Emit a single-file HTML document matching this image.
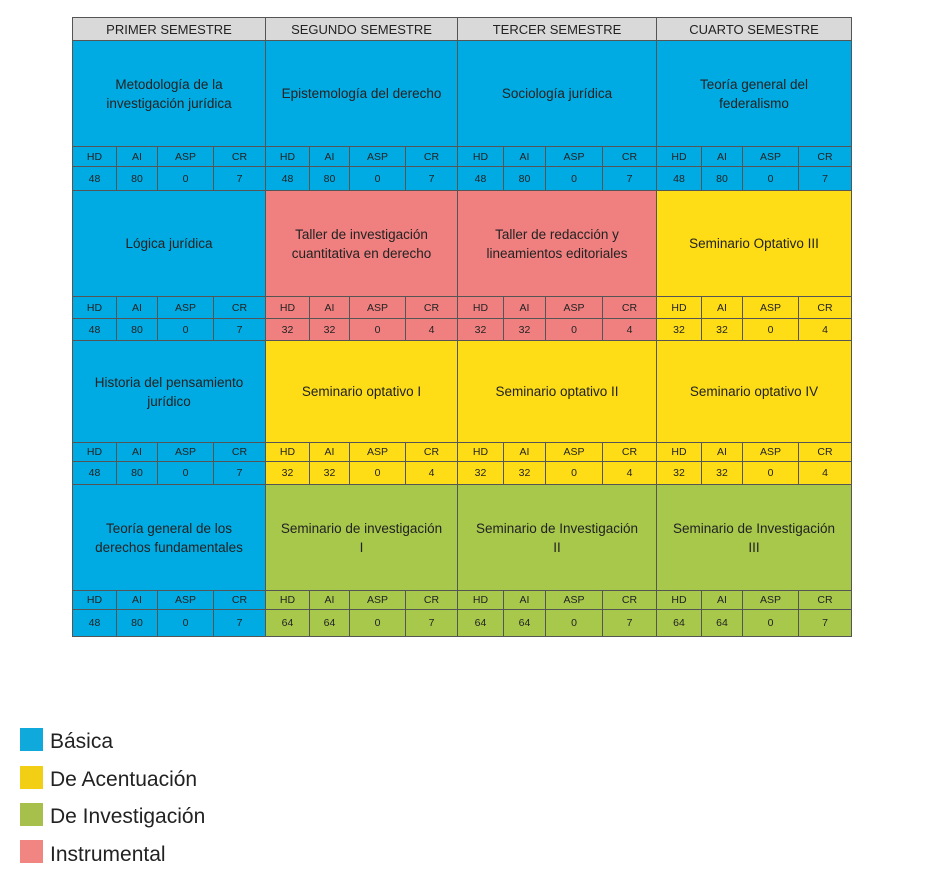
<!DOCTYPE html>
<html><head><meta charset="utf-8">
<style>
body{margin:0;width:928px;height:888px;background:#fff;position:relative;font-family:"Liberation Sans","DejaVu Sans",sans-serif;overflow:hidden}
.c{position:absolute;box-sizing:border-box;display:flex;align-items:center;justify-content:center;text-align:center;color:#222;border:1px solid #555;}
.h{background:#d9d9d9;font-size:13px;color:#222}
.t{font-size:13.5px;line-height:19px;padding:0 8px}
.s{font-size:10.5px}
.leg{position:absolute;left:20px;width:23px;height:23px}
.lt{position:absolute;left:50px;font-size:21px;color:#222;line-height:24px}
</style></head><body>
<div id="tbl"></div>
<div class="leg" style="top:728px;background:#0fa9dc"></div>
<div class="lt" style="top:730px">Básica</div>
<div class="leg" style="top:766px;background:#f2cf15"></div>
<div class="lt" style="top:768px">De Acentuación</div>
<div class="leg" style="top:803px;background:#a6c04b"></div>
<div class="lt" style="top:805px">De Investigación</div>
<div class="leg" style="top:840px;background:#f08582"></div>
<div class="lt" style="top:843px">Instrumental</div>
<script>
const semesters=["PRIMER SEMESTRE","SEGUNDO SEMESTRE","TERCER SEMESTRE","CUARTO SEMESTRE"];
const subjects=[
["Metodología de la<br>investigación jurídica","Epistemología del derecho","Sociología jurídica","Teoría general del<br>federalismo"],
["Lógica jurídica","Taller de investigación<br>cuantitativa en derecho","Taller de redacción y<br>lineamientos editoriales","Seminario Optativo III"],
["Historia del pensamiento<br>jurídico","Seminario optativo I","Seminario optativo II","Seminario optativo IV"],
["Teoría general de los<br>derechos fundamentales","Seminario de investigación<br>I","Seminario de Investigación<br>II","Seminario de Investigación<br>III"]];
const types=[["b","b","b","b"],["b","i","i","a"],["b","a","a","a"],["b","v","v","v"]];
const values=[
[[48,80,0,7],[48,80,0,7],[48,80,0,7],[48,80,0,7]],
[[48,80,0,7],[32,32,0,4],[32,32,0,4],[32,32,0,4]],
[[48,80,0,7],[32,32,0,4],[32,32,0,4],[32,32,0,4]],
[[48,80,0,7],[64,64,0,7],[64,64,0,7],[64,64,0,7]]];
const labels=["HD","AI","ASP","CR"];
const colors={b:"#00aae2",i:"#f08080",a:"#fedd16",v:"#a8c84c"};
const colX=[72,265,457,656,851];
const subFr=[0,0.23,0.44,0.73,1];
const rowY=[[40,146,166,190],[190,296,318,340],[340,442,461,484],[484,590,609,636]];
const tbl=document.getElementById('tbl');
function mk(cls,x,y,w,h,bg,html,name){const d=document.createElement('div');d.className='c '+cls;
d.style.cssText=`left:${x}px;top:${y}px;width:${w+1}px;height:${h+1}px;background:${bg}`;d.innerHTML=html;


tbl.appendChild(d);}
semesters.forEach((s,j)=>mk('h',colX[j],17,colX[j+1]-colX[j],23,'#d9d9d9',s,'semester-header-'+(j+1)));
for(let r=0;r<4;r++)for(let j=0;j<4;j++){
 const x0=colX[j],w=colX[j+1]-x0,bg=colors[types[r][j]],y=rowY[r];
 mk('t',x0,y[0],w,y[1]-y[0],bg,subjects[r][j],'subject-cell');
 for(let k=0;k<4;k++){const sx=Math.round(x0+w*subFr[k]),sw=Math.round(x0+w*subFr[k+1])-sx;
  mk('s',sx,y[1],sw,y[2]-y[1],bg,labels[k],'column-label-'+labels[k].toLowerCase());
  mk('s',sx,y[2],sw,y[3]-y[2],bg,String(values[r][j][k]),'value-'+labels[k].toLowerCase());}
}
</script>
</body></html>
